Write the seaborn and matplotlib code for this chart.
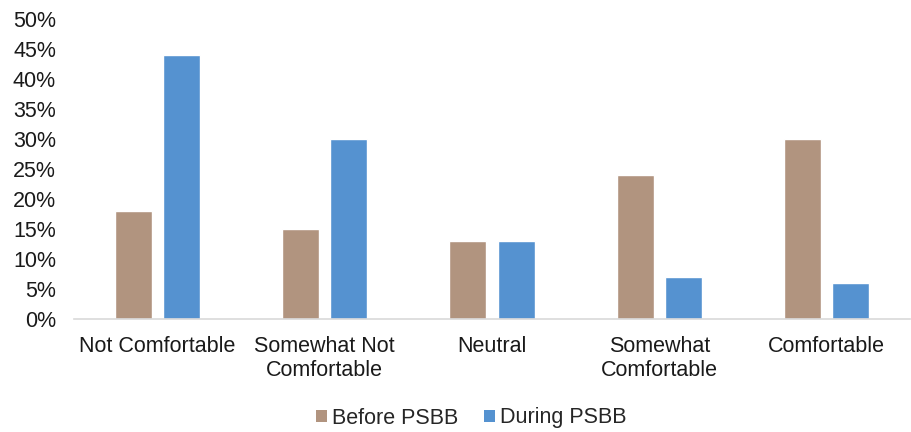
import matplotlib
matplotlib.use("Agg")
import matplotlib.pyplot as plt
import seaborn as sns
import pandas as pd
from matplotlib.patches import Patch
from matplotlib.ticker import FuncFormatter

categories = ["Not Comfortable", "Somewhat Not\nComfortable", "Neutral",
              "Somewhat\nComfortable", "Comfortable"]
before_psbb = [18, 15, 13, 24, 30]
during_psbb = [44, 30, 13, 7, 6]
series_names = ["Before PSBB", "During PSBB"]
colors = ["#B1947F", "#5592D0"]

df = pd.DataFrame({
    "category": categories * 2,
    "value": before_psbb + during_psbb,
    "period": [series_names[0]] * 5 + [series_names[1]] * 5,
})

sns.set_theme(style="white")
plt.rcParams["font.family"] = ["Liberation Sans", "DejaVu Sans"]

fig = plt.figure(figsize=(9.12, 4.32), dpi=100)
ax = fig.add_axes([74 / 912, 1 - 319 / 432, 836 / 912, 300 / 432])

sns.barplot(data=df, x="category", y="value", hue="period",
            hue_order=series_names, palette=colors, width=0.575, gap=0.23,
            saturation=1, ax=ax, legend=False)

ax.set_ylim(0, 50)
ax.set_xlim(-0.5, 4.5)
ax.set_yticks(range(0, 51, 5))
ax.yaxis.set_major_formatter(FuncFormatter(lambda v, _: f"{int(v)}%"))
ax.set_xlabel("")
ax.set_ylabel("")
for s in ["top", "right", "left"]:
    ax.spines[s].set_visible(False)
ax.spines["bottom"].set_color("#D9D9D9")
ax.spines["bottom"].set_linewidth(1.2)
ax.tick_params(axis="y", length=0, pad=13, labelsize=15.5, labelcolor="#1a1a1a")
ax.tick_params(axis="x", length=0, pad=12, labelsize=15.5, labelcolor="#1a1a1a")
for lbl in ax.get_xticklabels():
    lbl.set_linespacing(1.18)
    lbl.set_verticalalignment("top")

handles = [Patch(facecolor=c, edgecolor="none", label=n) for c, n in zip(colors, series_names)]
fig.legend(handles=handles, loc="center", bbox_to_anchor=(471.5 / 912, 1 - 418 / 432),
           ncol=2, frameon=False, fontsize=15.5, handlelength=0.5, handleheight=0.5,
           handletextpad=0.25, columnspacing=1.2)

fig.savefig("out.png", dpi=100)
